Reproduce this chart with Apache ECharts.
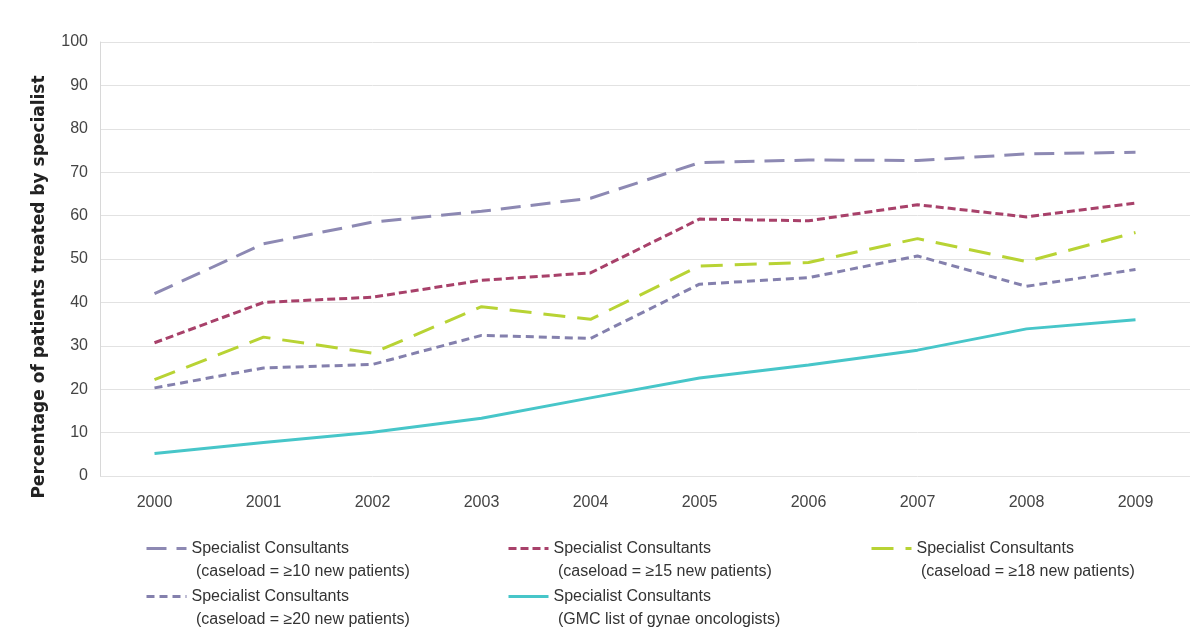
<!DOCTYPE html>
<html><head><meta charset="utf-8">
<script src="https://cdn.jsdelivr.net/npm/echarts@6/dist/echarts.min.js"></script>
<style>html,body{margin:0;padding:0;background:#fff}#c{width:1190px;height:629px}</style>
</head><body><div id="c"></div>
<script>
const years = ['2000','2001','2002','2003','2004','2005','2006','2007','2008','2009'];
const yTicks = [0,10,20,30,40,50,60,70,80,90,100];
const s10 = [42.0, 53.5, 58.5, 61.0, 64.0, 72.2, 72.8, 72.7, 74.2, 74.6];
const s15 = [30.7, 40.0, 41.2, 45.1, 46.8, 59.2, 58.8, 62.5, 59.7, 62.9];
const s18 = [22.2, 32.0, 28.3, 39.0, 36.1, 48.4, 49.2, 54.7, 49.4, 56.1];
const s20 = [20.3, 24.9, 25.7, 32.4, 31.7, 44.2, 45.7, 50.7, 43.7, 47.6];
const sGMC = [5.2, 7.7, 10.1, 13.3, 18.0, 22.6, 25.6, 29.0, 33.9, 36.0];
const names = [
  'Specialist Consultants\n (caseload = \u226510 new patients)',
  'Specialist Consultants\n (caseload = \u226515 new patients)',
  'Specialist Consultants\n (caseload = \u226518 new patients)',
  'Specialist Consultants\n (caseload = \u226520 new patients)',
  'Specialist Consultants\n (GMC list of gynae oncologists)'
];
const seriesData = [s10, s15, s18, s20, sGMC];
const colors = ['#8d89b3', '#a8416a', '#b8d334', '#8480ad', '#47c6c9'];
const dashes = [[20,10], [8,4], [22,12], [8,5], 'solid'];
const legendPos = [[140,509],[502,509],[865,509],[140,557],[502,557]];

const chart = echarts.init(document.getElementById('c'), null, {renderer:'canvas'});
const legFont = {fontFamily:'Liberation Sans', fontSize:16, color:'#333', lineHeight:23};
chart.setOption({
  animation:false,
  grid:{left:100, right:-2, top:42, bottom:153},
  legend: names.map((n,i)=>({
    data:[n], left:legendPos[i][0], top:legendPos[i][1], itemWidth:40, itemHeight:14,
    textStyle:legFont, orient:'horizontal', formatter: s => ' \n' + s,
    itemStyle:{opacity:0}, lineStyle:{width:3}
  })),
  xAxis:{
    type:'category', data:years, boundaryGap:true,
    axisLine:{show:false}, axisTick:{show:false},
    axisLabel:{fontFamily:'Liberation Sans', fontSize:16, color:'#444', margin:19}
  },
  yAxis:{
    type:'value', min:0, max:100, interval:10,
    name:'Percentage of patients treated by specialist', nameLocation:'middle', nameGap:52,
    nameTextStyle:{fontFamily:'DejaVu Sans', fontWeight:'bold', fontSize:17, color:'#222', padding:[0,56,0,0]},
    axisLine:{show:true, lineStyle:{color:'#d8d8d8', width:1}}, axisTick:{show:false},
    splitLine:{lineStyle:{color:'#e2e2e2', width:1}},
    axisLabel:{fontFamily:'Liberation Sans', fontSize:16, color:'#444', margin:12,
      formatter:v=>yTicks.includes(v)?String(v):''}
  },
  series: seriesData.map((d,i)=>({
    name:names[i], type:'line', data:d, symbol:'none', smooth:false,
    lineStyle:{color:colors[i], width:3, type:dashes[i]},
    itemStyle:{color:colors[i]}
  }))
});
</script></body></html>
